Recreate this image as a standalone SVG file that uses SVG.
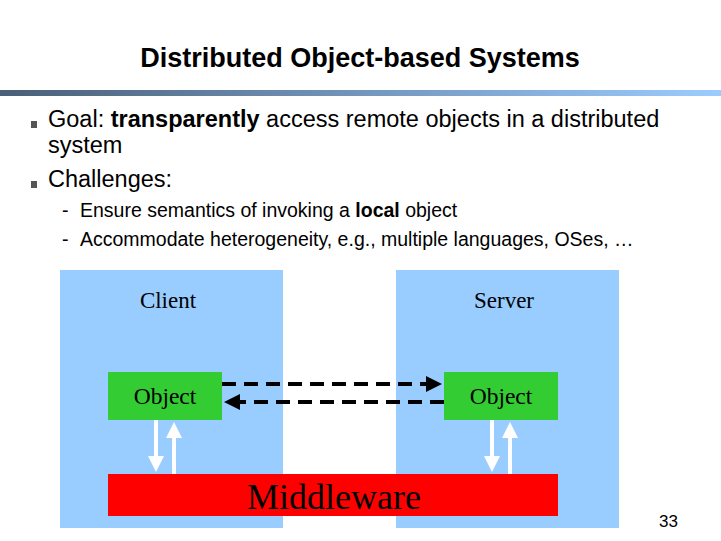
<svg xmlns="http://www.w3.org/2000/svg" width="721" height="541" viewBox="0 0 721 541">
<style>
.s{font-family:"Liberation Sans",Arial,sans-serif;fill:#000}
.r{font-family:"Liberation Serif","Times New Roman",serif;fill:#000}
.d{stroke:#000;stroke-width:4;stroke-dasharray:14,8;fill:none}
.w{stroke:#fff;stroke-width:4;fill:none}
.b{fill:#555}
</style>
<defs>
<linearGradient id="g" x1="0" x2="1"><stop offset="0" stop-color="#4a5f78"/><stop offset="1" stop-color="#9cccff"/></linearGradient>
<marker id="ab" markerWidth="4" markerHeight="4" refX="3" refY="2" orient="auto"><path d="M0,0 L4,2 L0,4 Z" fill="#000"/></marker>
<marker id="aw" markerWidth="4" markerHeight="4" refX="3" refY="2" orient="auto"><path d="M0,0 L4,2 L0,4 Z" fill="#fff"/></marker>
</defs>
<rect width="721" height="541" fill="#fff"/>
<text class="s" x="360" y="67" font-size="27" font-weight="bold" text-anchor="middle">Distributed Object-based Systems</text>
<rect x="0" y="90" width="721" height="6" fill="url(#g)"/>
<rect class="b" x="31" y="121" width="6" height="7"/>
<rect class="b" x="31" y="181" width="6" height="7"/>
<g class="s" font-size="23.5">
<text x="48" y="127">Goal: <tspan font-weight="bold">transparently</tspan> access remote objects in a distributed</text>
<text x="48" y="153">system</text>
<text x="48" y="187">Challenges:</text>
</g>
<g class="s" font-size="19.5">
<text x="62" y="217">-</text><text x="80" y="217">Ensure semantics of invoking a <tspan font-weight="bold">local</tspan> object</text>
<text x="62" y="246">-</text><text x="80" y="246">Accommodate heterogeneity, e.g., multiple languages, OSes, …</text>
</g>
<g id="client"><rect x="60" y="270" width="223" height="258" fill="#99ccff"/><text class="r" x="168" y="308" font-size="23" text-anchor="middle">Client</text></g>
<g id="server"><rect x="396" y="270" width="223" height="258" fill="#99ccff"/><text class="r" x="504" y="308" font-size="23" text-anchor="middle">Server</text></g>
<g id="objL"><rect x="108" y="372" width="114" height="48" fill="#33cc33"/><text class="r" x="165" y="404" font-size="23.5" text-anchor="middle">Object</text></g>
<g id="objR"><rect x="444" y="372" width="114" height="48" fill="#33cc33"/><text class="r" x="501" y="404" font-size="23.5" text-anchor="middle">Object</text></g>
<g id="mw"><rect x="108" y="474" width="450" height="42" fill="#ff0000"/><text class="r" x="334" y="509" font-size="36" text-anchor="middle">Middleware</text></g>
<g id="connectors">
<line class="d" x1="222" y1="384" x2="438" y2="384" marker-end="url(#ab)"/>
<line class="d" x1="444" y1="402" x2="228" y2="402" marker-end="url(#ab)"/>
<line class="w" x1="156" y1="420" x2="156" y2="468" marker-end="url(#aw)"/>
<line class="w" x1="174" y1="474" x2="174" y2="426" marker-end="url(#aw)"/>
<line class="w" x1="492" y1="420" x2="492" y2="468" marker-end="url(#aw)"/>
<line class="w" x1="510" y1="474" x2="510" y2="426" marker-end="url(#aw)"/>
</g>
<text class="s" x="678" y="527" font-size="17" text-anchor="end">33</text>
</svg>
